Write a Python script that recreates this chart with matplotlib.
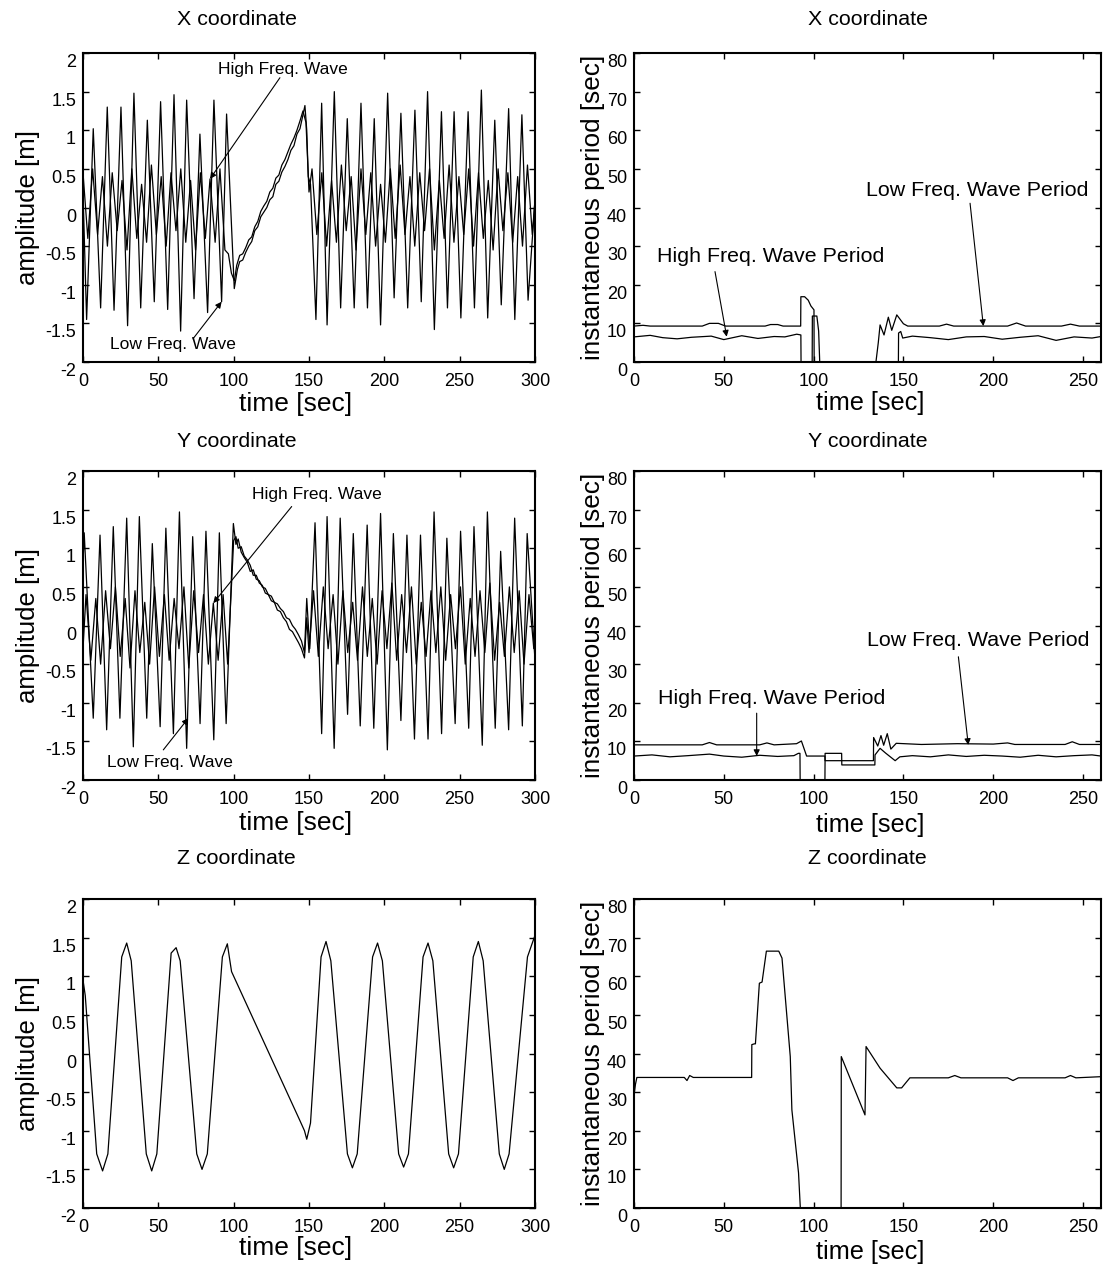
import matplotlib.pyplot as plt
from matplotlib.transforms import ScaledTranslation

plt.rcParams['font.family'] = ['Liberation Sans', 'DejaVu Sans']
plt.rcParams['axes.unicode_minus'] = False

# ---------------- X coordinate: wave elevations [m] ----------------
# low frequency wave (large amplitude): before gap, drift ramp, after gap
x_lf_pre_t = [0, 2.4, 6.8, 11.7, 16.1, 20.6, 25.2, 29.6, 33.8, 38.3, 42.7, 47.3,
              51.5, 56.2, 60.4, 64.8, 68.8, 73.7, 77.6, 82.7, 86.9, 92.0, 95.3, 100.4]
x_lf_pre_v = [0.2, -1.45, 1.02, -1.3, 1.30, -1.33, 1.30, -1.53, 1.48, -1.3, 1.13, -1.22,
              1.37, -1.32, 1.46, -1.6, 1.39, -1.18, 0.95, -1.36, 1.39, -1.22, 1.21, -1.05]
x_lf_ramp_t = [102.5, 104, 106, 108, 110, 112, 114, 116, 118, 120, 122, 124, 126, 128,
               130, 132, 134, 136, 138, 140, 142, 144, 146, 147.3, 148.5, 149.5, 151]
x_lf_ramp_v = [-0.8, -0.7, -0.68, -0.58, -0.5, -0.44, -0.3, -0.25, -0.12, -0.06, 0.0, 0.1,
               0.14, 0.3, 0.34, 0.46, 0.53, 0.62, 0.74, 0.8, 0.95, 1.02, 1.2, 1.32, 1.0, 0.4, 0.3]
x_lf_post_t = [154.6, 158.4, 162, 166.8, 171, 175.4, 180, 184.5, 188.8, 193.3, 197.5, 202.2,
               206.5, 211, 215.5, 220.3, 224.5, 228.7, 233.2, 237.9, 241.9, 246.3, 250.8,
               255.6, 259.8, 264.4, 268.6, 273.3, 277.6, 282.5, 286.6, 291.3, 295.4, 300]
x_lf_post_v = [-1.45, 1.35, -1.52, 1.50, -1.3, 1.15, -1.3, 1.35, -1.3, 1.15, -1.52, 1.48,
               -1.17, 1.22, -1.3, 1.26, -1.22, 1.50, -1.58, 1.24, -1.3, 1.24, -1.43,
               1.24, -1.3, 1.52, -1.43, 1.13, -1.26, 1.28, -1.45, 1.2, -1.2, 0.1]

# high frequency wave (small amplitude)
x_hf_pre_t = [0, 3.2, 6.4, 9.7, 12.9, 16.2, 19.4, 22.7, 25.9, 29.2, 32.4, 35.7, 38.9, 42.2,
              45.4, 48.7, 51.9, 55.2, 58.4, 61.7, 64.9, 68.2, 71.4, 74.7, 77.9, 81.2,
              84.3, 87.7, 90.9, 94.2]
x_hf_pre_v = [0.45, -0.4, 0.5, -0.35, 0.4, -0.5, 0.45, -0.3, 0.35, -0.55, 0.5, -0.4, 0.3, -0.45,
              0.55, -0.35, 0.4, -0.5, 0.45, -0.3, 0.5, -0.45, 0.35, -0.55, 0.45, -0.4,
              0.37, -0.45, 0.5, -0.55]
x_hf_ramp_t = [96.5, 98.5, 100.5, 102, 104, 106, 108, 110, 112, 114, 116, 118, 120, 122,
               124, 126, 128, 130, 132, 134, 136, 138, 140, 142, 144, 146, 148, 150]
x_hf_ramp_v = [-0.6, -0.85, -0.95, -0.75, -0.62, -0.6, -0.52, -0.42, -0.38, -0.25, -0.18, -0.05,
               0.02, 0.08, 0.2, 0.25, 0.38, 0.42, 0.55, 0.62, 0.72, 0.82, 0.9, 1.0, 1.12,
               1.25, 1.1, 0.2]
x_hf_post_t = [152, 155.2, 158.5, 161.7, 165, 168.2, 171.5, 174.7, 178, 181.2, 184.5, 187.7,
               191, 194.2, 197.5, 200.7, 204, 207.2, 210.5, 213.7, 217, 220.2, 223.5, 226.7,
               230, 233.2, 236.5, 239.7, 243, 246.2, 249.5, 252.7, 256, 259.2, 262.5, 265.7,
               269, 272.2, 275.5, 278.7, 282, 285.2, 288.5, 291.7, 295, 298.2, 300]
x_hf_post_v = [0.5, -0.35, 0.45, -0.5, 0.35, -0.45, 0.55, -0.3, 0.4, -0.55, 0.5, -0.35,
               0.45, -0.5, 0.3, -0.45, 0.5, -0.4, 0.55, -0.35, 0.4, -0.5, 0.45, -0.3,
               0.5, -0.55, 0.35, -0.4, 0.55, -0.45, 0.4, -0.35, 0.5, -0.5, 0.45, -0.4,
               0.35, -0.55, 0.5, -0.3, 0.45, -0.45, 0.4, -0.5, 0.55, -0.35, 0.1]

# ---------------- Y coordinate: wave elevations [m] ----------------
y_lf_pre_t = [0, 0.8, 6.8, 11.3, 15.7, 20.1, 24.5, 29, 33.4, 37.4, 42.3, 46, 51.2, 55,
              60, 64, 68.8, 72.8, 77.7, 81.6, 86.8, 90.5, 95, 99.8]
y_lf_pre_v = [0.8, 1.2, -1.2, 1.17, -1.35, 1.28, -1.2, 1.39, -1.57, 1.41, -1.2, 1.06, -1.31, 1.26,
              -1.4, 1.47, -1.59, 1.15, -1.27, 1.22, -1.48, 1.2, -1.27, 1.32]
y_lf_ramp_t = [101.5, 103, 105, 107, 109, 111, 113, 115, 117, 119, 121, 123, 125, 127,
               129, 131, 133, 135, 137, 139, 141, 143, 145, 147, 148.5, 150.5]
y_lf_ramp_v = [1.05, 1.12, 0.95, 0.88, 0.82, 0.7, 0.72, 0.6, 0.58, 0.5, 0.48, 0.4, 0.38, 0.3,
               0.28, 0.22, 0.18, 0.1, 0.08, 0.0, -0.05, -0.12, -0.2, -0.35, 0.35, -0.3]
y_lf_post_t = [154, 158.4, 162, 166.7, 170.7, 175.6, 179.4, 184, 188.6, 193, 197.5, 202,
               206, 211, 215, 220, 224, 229, 233, 238, 241.5, 247, 250.6, 256, 259.5, 265,
               268.4, 273.6, 277.2, 282.5, 286.5, 291.6, 294.8, 300]
y_lf_post_v = [1.33, -1.4, 1.41, -1.59, 1.39, -1.15, 1.19, -1.3, 1.3, -1.33, 1.45, -1.61,
               1.19, -1.23, 1.17, -1.47, 1.17, -1.47, 1.47, -1.4, 1.13, -1.27, 1.22, -1.33,
               1.28, -1.55, 1.47, -1.33, 0.96, -1.35, 1.39, -1.3, 1.19, -0.45]

y_hf_pre_t = [0, 2, 5.2, 8.5, 11.7, 15, 18.2, 21.5, 24.7, 28, 31.2, 34.5, 37.7, 41, 44.2,
              47.5, 50.7, 54, 57.2, 60.5, 63.7, 67, 70.2, 73.5, 76.7, 80, 83.2, 86.5,
              89.7, 93, 96]
y_hf_pre_v = [-0.3, 0.4, -0.45, 0.35, -0.5, 0.45, -0.3, 0.5, -0.4, 0.35, -0.55, 0.45, -0.35,
              0.3, -0.5, 0.5, -0.4, 0.4, -0.45, 0.35, -0.3, 0.5, -0.55, 0.45, -0.35, 0.4,
              -0.5, 0.29, -0.45, 0.4, -0.5]
y_hf_ramp_t = [98, 100, 101.5, 103, 105, 107, 109, 111, 113, 115, 117, 119, 121, 123, 125,
               127, 129, 131, 133, 135, 137, 139, 141, 143, 145, 147, 148.5]
y_hf_ramp_v = [0.3, 1.1, 1.15, 1.0, 1.02, 0.9, 0.85, 0.78, 0.65, 0.65, 0.55, 0.52, 0.42, 0.4,
               0.32, 0.3, 0.2, 0.18, 0.1, 0.05, -0.05, -0.08, -0.15, -0.22, -0.3, -0.42, 0.1]
y_hf_post_t = [150, 153, 156.2, 159.5, 162.7, 166, 169.2, 172.5, 175.7, 179, 182.2, 185.5,
               188.7, 192, 195.2, 198.5, 201.7, 205, 208.2, 211.5, 214.7, 218, 221.2, 224.5,
               227.7, 231, 234.2, 237.5, 240.7, 244, 247.2, 250.5, 253.7, 257, 260.2, 263.5,
               266.7, 270, 273.2, 276.5, 279.7, 283, 286.2, 289.5, 292.7, 296, 299.2, 300]
y_hf_post_v = [-0.35, 0.45, -0.4, 0.5, -0.3, 0.4, -0.5, 0.45, -0.35, 0.3, -0.45, 0.5,
               -0.4, 0.35, -0.5, 0.45, -0.3, 0.55, -0.45, 0.4, -0.35, 0.5, -0.5, 0.3,
               -0.4, 0.45, -0.35, 0.5, -0.45, 0.4, -0.3, 0.5, -0.5, 0.35, -0.4, 0.45,
               -0.35, 0.55, -0.45, 0.3, -0.4, 0.5, -0.35, 0.45, -0.5, 0.4, -0.3, -0.2]

# ---------------- Z coordinate: wave elevation [m] ----------------
z_t = [0, 1.5, 9.1, 13, 16.5, 25.7, 29, 32, 42, 45.6, 49, 58.5, 61.8, 64.5, 75.5, 79, 82.5,
       92.5, 95.8, 97.5, 98.6, 144, 147, 148.5, 151, 158, 161.3, 164.5, 175.5, 178.8, 182,
       192.2, 195.5, 198.7, 209.5, 212.8, 216, 225.7, 229, 232.2, 242.7, 246, 249.2, 259,
       262.4, 265.6, 276.3, 279.6, 282.8, 295, 300]
z_v = [0.95, 0.75, -1.3, -1.52, -1.3, 1.25, 1.43, 1.2, -1.3, -1.52, -1.3, 1.3, 1.37, 1.2,
       -1.3, -1.5, -1.3, 1.25, 1.42, 1.2, 1.06, -0.87, -1.0, -1.11, -0.9, 1.25, 1.45, 1.2,
       -1.3, -1.48, -1.3, 1.25, 1.43, 1.2, -1.3, -1.47, -1.3, 1.25, 1.43, 1.2, -1.3, -1.48,
       -1.3, 1.25, 1.45, 1.2, -1.3, -1.5, -1.3, 1.25, 1.53]

# ---------------- instantaneous periods [sec] ----------------
xp_lf_t = [0, 5, 9, 38, 42, 47, 51, 73, 76, 80, 83, 92.8, 92.9, 95, 97, 98.5, 100.2, 100.3,
           134.7, 136, 137, 139.2, 141.6, 143.5, 146.3, 150, 152.4, 170, 174, 178, 208, 213,
           218, 238, 243, 248, 260]
xp_lf_v = [9.3, 9.5, 9.3, 9.3, 10.0, 10.0, 9.3, 9.3, 9.7, 9.7, 9.3, 9.3, 16.9, 16.9, 16.0,
           14.5, 13.5, 0, 0, 5.0, 9.6, 7.0, 11.6, 8.2, 12.2, 9.9, 9.3, 9.3, 9.8, 9.3, 9.3,
           10.1, 9.3, 9.3, 9.8, 9.3, 9.3]
xp_hf_t = [0, 9, 16, 24, 32, 43, 50, 60, 69, 78, 84, 90.6, 92.9, 93.0, 99.2, 99.3, 101.8,
           102.8, 103.4, 147.2, 147.3, 148.5, 149.6, 155, 165, 175, 185, 195, 205, 215,
           225, 235, 245, 255, 260]
xp_hf_v = [6.5, 6.9, 6.3, 6.0, 6.4, 6.7, 5.8, 6.8, 6.1, 6.6, 6.5, 7.2, 7.0, 0, 0, 11.9, 11.9,
           8.0, 0, 0, 7.5, 7.9, 6.2, 6.7, 6.3, 5.8, 6.5, 6.6, 5.9, 6.4, 6.8, 5.6, 6.5, 6.2, 6.6]

yp_lf_t = [0, 38, 42, 46, 70, 74, 78, 90.5, 93.2, 96.1, 106.3, 106.4, 133.3, 133.4, 135.7,
           137.5, 139, 141, 143, 146, 160, 180, 200, 208, 212, 240, 244, 248, 260]
yp_lf_v = [9.1, 9.1, 9.7, 9.1, 9.1, 9.6, 9.1, 9.4, 10.1, 6.2, 6.2, 5.0, 5.0, 11.0, 8.8,
           11.5, 9.0, 12.0, 8.0, 9.5, 9.2, 9.4, 9.3, 9.6, 9.2, 9.2, 9.9, 9.2, 9.2]
yp_hf_t = [0, 10, 20, 30, 42, 50, 60, 70, 80, 89, 91.5, 92.4, 92.5, 106.3, 106.4, 115.6,
           115.7, 134.1, 134.2, 137, 140, 145.4, 148, 155, 165, 175, 185, 195, 205, 215,
           225, 235, 245, 255, 260]
yp_hf_v = [6.2, 6.5, 6.0, 6.3, 6.7, 6.2, 5.9, 6.4, 6.1, 6.3, 6.9, 6.9, 0, 0, 6.9, 6.9, 3.9,
           3.9, 6.5, 8.2, 7.0, 5.0, 6.0, 6.3, 6.0, 6.5, 6.1, 6.4, 6.2, 5.9, 6.4, 6.0, 6.3,
           6.5, 6.2]

zp_t = [0, 0.8, 1.6, 28, 29.5, 31, 33, 60, 65.5, 65.6, 67, 67.6, 69.8, 71.3, 73.7, 80.6,
        82.4, 87, 87.9, 91.6, 92.6, 115.3, 115.4, 128.6, 129.2, 137, 146.3, 149, 153.6,
        175, 178.6, 182, 208, 211, 214, 240, 243, 246, 260]
zp_v = [29, 32, 33.8, 33.8, 33.0, 34.3, 33.8, 33.8, 33.8, 42.3, 42.5, 42.5, 58.2, 58.5,
        66.5, 66.5, 64.7, 39.2, 25.4, 9.1, 0, 0, 39.2, 24.1, 41.8, 36.2, 31.1, 31.1, 33.7,
        33.7, 34.3, 33.7, 33.7, 33.0, 33.7, 33.7, 34.3, 33.7, 34.0]

amp_ticks = [-2, -1.5, -1, -0.5, 0, 0.5, 1, 1.5, 2]
amp_labels = ['-2', '-1.5', '-1', '-0.5', '0', '0.5', '1', '1.5', '2']
time_ticks_left = [0, 50, 100, 150, 200, 250, 300]
time_ticks_right = [0, 50, 100, 150, 200, 250]
period_ticks = [0, 10, 20, 30, 40, 50, 60, 70, 80]

W, H = 1103, 1271
fig = plt.figure(figsize=(W / 100, H / 100), dpi=100)
# y tick labels sit a few pixels below their ticks
ytick_shift = ScaledTranslation(0, -0.075, fig.dpi_scale_trans)


def axes_px(left, top, right, bottom):
    return fig.add_axes([left / W, 1 - bottom / H, (right - left) / W, (bottom - top) / H])


def style(ax):
    for s in ax.spines.values():
        s.set_linewidth(1.5)
    ax.tick_params(direction='in', length=4, width=1, top=True, right=True, labelsize=13)
    ax.tick_params(axis='x', pad=8)
    ax.tick_params(axis='y', pad=5)
    for lab in ax.get_yticklabels():
        lab.set_transform(lab.get_transform() + ytick_shift)


def amp_panel(top, bottom, title, title_pad, xlabel_y):
    ax = axes_px(83, top, 535, bottom)
    ax.set_xlim(0, 300)
    ax.set_ylim(-2, 2)
    ax.set_xticks(time_ticks_left)
    ax.set_yticks(amp_ticks)
    ax.set_yticklabels(amp_labels)
    style(ax)
    ax.set_xlabel('time [sec]', fontsize=19, va='center')
    ax.xaxis.set_label_coords(0.47, -(xlabel_y - bottom) / (bottom - top))
    ax.set_ylabel('amplitude [m]', fontsize=18.5, labelpad=4)
    ax.set_title(title, fontsize=15.4, x=0.34, pad=title_pad)
    return ax


def period_panel(top, bottom, title, title_pad, xlabel_y):
    ax = axes_px(634, top, 1101, bottom)
    ax.set_xlim(0, 260)
    ax.set_ylim(0, 80)
    ax.set_xticks(time_ticks_right)
    ax.set_yticks(period_ticks)
    ax.set_yticklabels([str(v) for v in period_ticks])
    style(ax)
    ax.set_xlabel('time [sec]', fontsize=18.2, va='center')
    ax.xaxis.set_label_coords(0.505, -(xlabel_y - bottom) / (bottom - top))
    ax.set_ylabel('instantaneous period [sec]', fontsize=18.8, labelpad=1)
    ax.set_title(title, fontsize=15.4, pad=title_pad)
    return ax


def arrow(ax, head, tail):
    ax.annotate('', xy=head, xytext=tail,
                arrowprops=dict(arrowstyle='-|>', color='black', lw=0.8,
                                mutation_scale=9, shrinkA=0, shrinkB=0))


line_kw = dict(color='black', lw=0.9)

# X coordinate
ax = amp_panel(53, 362, 'X coordinate', 20, 404)
ax.plot(x_lf_pre_t + x_lf_ramp_t + x_lf_post_t, x_lf_pre_v + x_lf_ramp_v + x_lf_post_v, **line_kw)
ax.plot(x_hf_pre_t + x_hf_ramp_t + x_hf_post_t, x_hf_pre_v + x_hf_ramp_v + x_hf_post_v, **line_kw)
ax.text(89.5, 1.78, 'High Freq. Wave', fontsize=12.5, va='center')
arrow(ax, (x_hf_pre_t[26], x_hf_pre_v[26]), (130.7, 1.68))
ax.text(17.9, -1.77, 'Low Freq. Wave', fontsize=12.5, va='center')
arrow(ax, (x_lf_pre_t[21], x_lf_pre_v[21]), (73, -1.7))

ax = period_panel(53, 362, 'X coordinate', 20, 403)
ax.plot(xp_lf_t, xp_lf_v, **line_kw)
ax.plot(xp_hf_t, xp_hf_v, **line_kw)
ax.text(12.8, 27.2, 'High Freq. Wave Period', fontsize=15.4, va='center')
arrow(ax, (51.6, 6.55), (45.1, 23.4))
ax.text(129.2, 44.3, 'Low Freq. Wave Period', fontsize=15.4, va='center')
arrow(ax, (194.5, 9.3), (187.1, 41.1))

# Y coordinate
ax = amp_panel(471, 780, 'Y coordinate', 17, 823)
ax.plot(y_lf_pre_t + y_lf_ramp_t + y_lf_post_t, y_lf_pre_v + y_lf_ramp_v + y_lf_post_v, **line_kw)
ax.plot(y_hf_pre_t + y_hf_ramp_t + y_hf_post_t, y_hf_pre_v + y_hf_ramp_v + y_hf_post_v, **line_kw)
ax.text(112, 1.70, 'High Freq. Wave', fontsize=12.5, va='center')
arrow(ax, (y_hf_pre_t[27], y_hf_pre_v[27]), (138.5, 1.54))
ax.text(15.7, -1.77, 'Low Freq. Wave', fontsize=12.5, va='center')
arrow(ax, (69.9, -1.2), (53.3, -1.61))

ax = period_panel(471, 780, 'Y coordinate', 17, 825)
ax.plot(yp_lf_t, yp_lf_v, **line_kw)
ax.plot(yp_hf_t, yp_hf_v, **line_kw)
ax.text(13.4, 21.1, 'High Freq. Wave Period', fontsize=15.4, va='center')
arrow(ax, (68.3, 6.2), (68.3, 17.3))
ax.text(129.7, 36.0, 'Low Freq. Wave Period', fontsize=15.4, va='center')
arrow(ax, (186.1, 9.07), (180.6, 31.9))

# Z coordinate
ax = amp_panel(899, 1208, 'Z coordinate', 25, 1248)
ax.plot(z_t, z_v, **line_kw)

ax = period_panel(899, 1208, 'Z coordinate', 25, 1252)
ax.plot(zp_t, zp_v, **line_kw)

fig.savefig('out.png', dpi=100)
